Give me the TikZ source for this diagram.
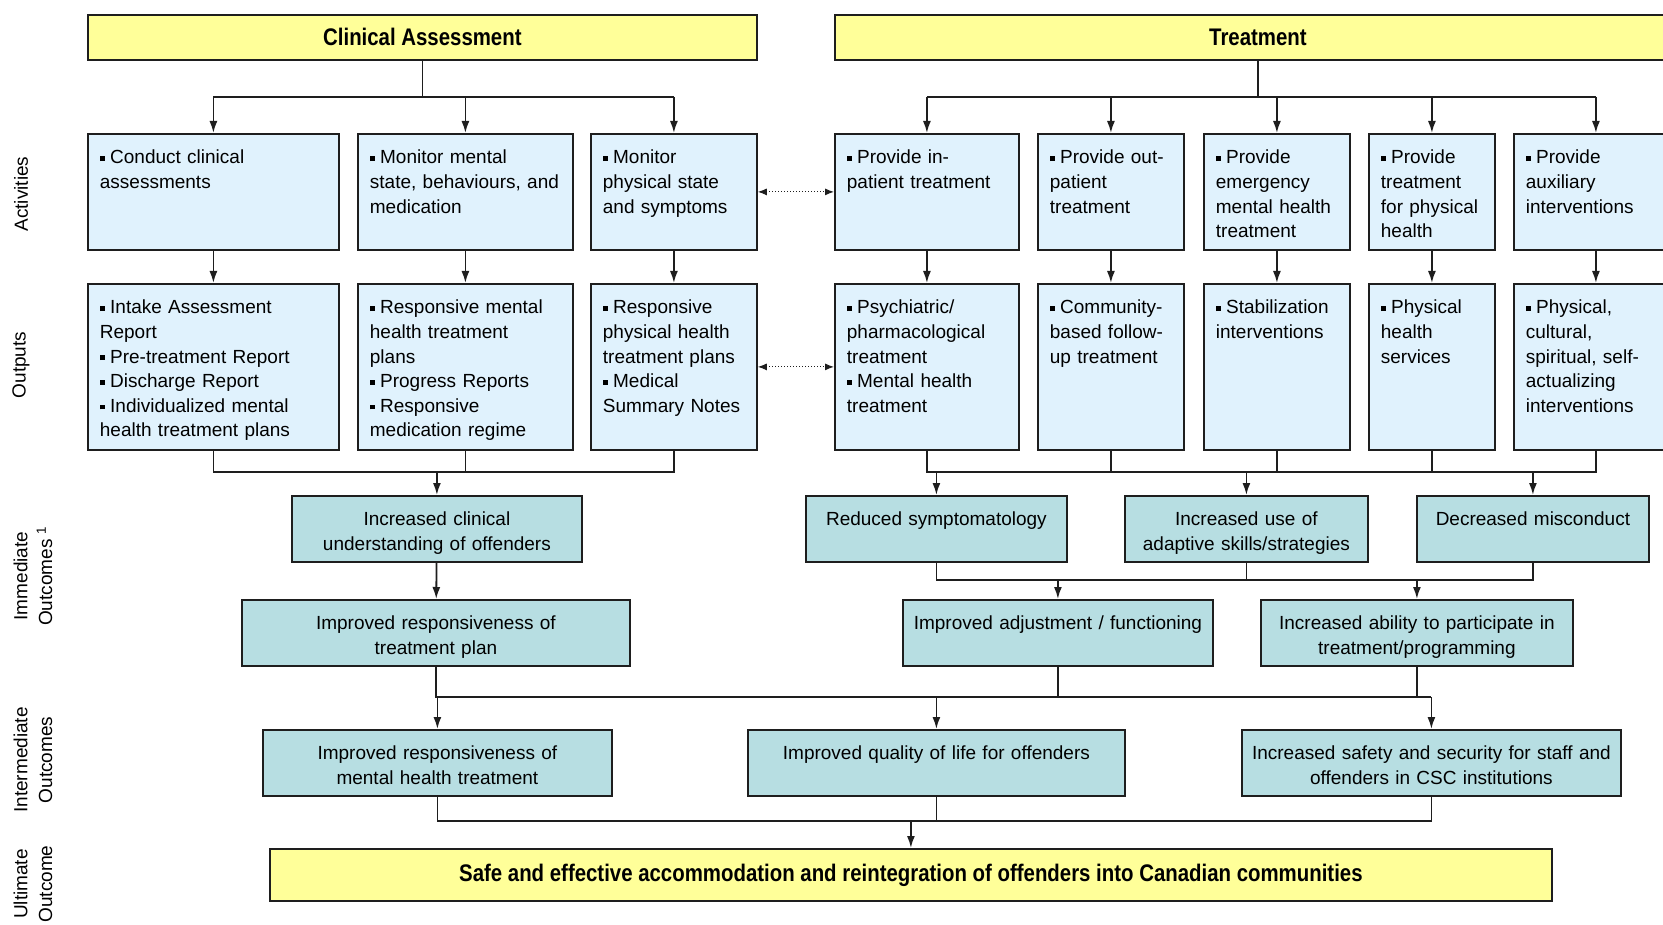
\documentclass[tikz,border=0pt]{standalone}
\usepackage{fontspec}
\setmainfont{Liberation Sans}
\newfontfamily\headfont[FakeStretch=0.85]{Liberation Sans}
\usetikzlibrary{arrows.meta,positioning}

\definecolor{headyellow}{RGB}{255,255,153}
\definecolor{paleblue}{RGB}{224,242,253}
\definecolor{paleteal}{RGB}{183,222,226}
\definecolor{edgegray}{RGB}{30,30,30}

\newcommand{\bodysize}{\fontsize{19pt}{24.6pt}\selectfont}
\newcommand{\headsize}{\fontsize{24pt}{28pt}\selectfont\bfseries}
\newcommand{\itm}{\rule[0.15em]{0.26em}{0.26em}\hspace{0.28em}}

\begin{document}
\begin{tikzpicture}[x=1pt, y=-1pt, line width=1.8pt, draw=edgegray,
  >={Latex[length=12pt,width=8pt]},
  headbox/.style={draw=edgegray, fill=headyellow, anchor=north west, inner sep=0pt,
    minimum width=#1, minimum height=45pt, font=\headfont\headsize},
  actbox/.style={draw=edgegray, fill=paleblue, anchor=north west, align=left, text width=#1,
    inner xsep=12pt, inner ysep=13pt, text height=17pt, text depth=73pt, font=\bodysize},
  outbox/.style={actbox=#1, text depth=123pt},
  resbox/.style={draw=edgegray, fill=paleteal, anchor=north west, align=center, text width=#1,
    inner xsep=4pt, inner ysep=13pt, text height=17pt, text depth=23pt, font=\bodysize},
  rowlabel/.style={rotate=90, align=center, font=\bodysize}]
\useasboundingbox (0,0) rectangle (1663,925);

% Row labels
\node[rowlabel] (lblact) at (21,194) {Activities};
\node[rowlabel] (lblout) at (21,365) {Outputs};
\node[rowlabel] (lblimm) at (33,576) {Immediate\\Outcomes \textsuperscript{1}};
\node[rowlabel] (lblint) at (33,760) {Intermediate\\Outcomes};
\node[rowlabel] (lblult) at (33,884) {Ultimate\\Outcome};

% Headings
\node[headbox=669pt] (assess) at (87,14) {Clinical Assessment};
\node[headbox=846pt] (treat) at (834,14) {Treatment};

% Activities
\node[actbox=227pt] (conduct) at (87,133) {\itm Conduct clinical\\assessments};
\node[actbox=191pt] (monmind) at (357,133) {\itm Monitor mental\\state, behaviours, and\\medication};
\node[actbox=142pt] (monbody) at (590,133) {\itm Monitor\\physical state\\and symptoms};
\node[actbox=160pt] (inpat) at (834,133) {\itm Provide in-\\patient treatment};
\node[actbox=122pt] (outpat) at (1037,133) {\itm Provide out-\\patient\\treatment};
\node[actbox=122pt] (emerg) at (1203,133) {\itm Provide\\emergency\\mental health\\treatment};
\node[actbox=102pt] (physcare) at (1368,133) {\itm Provide\\treatment\\for physical\\health};
\node[actbox=140pt] (auxil) at (1513,133) {\itm Provide\\auxiliary\\interventions};

% Outputs
\node[outbox=227pt] (conduct-out) at (87,283) {\itm Intake Assessment\\Report\\\itm Pre-treatment Report\\\itm Discharge Report\\\itm Individualized mental\\health treatment plans};
\node[outbox=191pt] (monmind-out) at (357,283) {\itm Responsive mental\\health treatment\\plans\\\itm Progress Reports\\\itm Responsive\\medication regime};
\node[outbox=142pt] (monbody-out) at (590,283) {\itm Responsive\\physical health\\treatment plans\\\itm Medical\\Summary Notes};
\node[outbox=160pt] (inpat-out) at (834,283) {\itm Psychiatric/\\pharmacological\\treatment\\\itm Mental health\\treatment};
\node[outbox=122pt] (outpat-out) at (1037,283) {\itm Community-\\based follow-\\up treatment};
\node[outbox=122pt] (emerg-out) at (1203,283) {\itm Stabilization\\interventions};
\node[outbox=102pt] (physcare-out) at (1368,283) {\itm Physical\\health\\services};
\node[outbox=140pt] (auxil-out) at (1513,283) {\itm Physical,\\cultural,\\spiritual, self-\\actualizing\\interventions};

% Immediate outcomes
\node[resbox=282pt] (understand) at (291,495) {Increased clinical\\understanding of offenders};
\node[resbox=380pt] (respplan) at (241,599) {Improved responsiveness of\\treatment plan};
\node[resbox=253pt] (symptoms) at (805,495) {Reduced symptomatology};
\node[resbox=235pt] (skills) at (1124,495) {Increased use of\\adaptive skills/strategies};
\node[resbox=224pt] (misconduct) at (1416,495) {Decreased misconduct};
\node[resbox=302pt] (adjust) at (902,599) {Improved adjustment / functioning};
\node[resbox=304pt] (participate) at (1260,599) {Increased ability to participate in\\treatment/programming};

% Intermediate outcomes
\node[resbox=341pt] (respmh) at (262,729) {Improved responsiveness of\\mental health treatment};
\node[resbox=369pt] (quality) at (747,729) {Improved quality of life for offenders};
\node[resbox=371pt] (safety) at (1241,729) {Increased safety and security for staff and\\offenders in CSC institutions};

% Ultimate outcome
\node[headbox=1282pt, minimum height=52pt] (ultimate) at (269,848) {Safe and effective accommodation and reintegration of offenders into Canadian communities};

% Headings to activities
\coordinate (bustop) at (0,97);
\draw (assess) -- (assess |- bustop);
\draw (conduct |- bustop) -- (monbody |- bustop);
\draw (treat) -- (treat |- bustop);
\draw (inpat |- bustop) -- (auxil |- bustop);
\foreach \n in {conduct,monmind,monbody,inpat,outpat,emerg,physcare,auxil}
  \draw[->] (\n |- bustop) -- (\n);

% Activities to outputs
\foreach \n in {conduct,monmind,monbody,inpat,outpat,emerg,physcare,auxil}
  \draw[->] (\n) -- (\n-out);

% Links between the two sides
\draw[<->, dotted, line width=1pt, >={Latex[length=9pt,width=7pt]}] (monbody) -- (inpat);
\draw[<->, dotted, line width=1pt, >={Latex[length=9pt,width=7pt]}] (monbody-out) -- (inpat-out);

% Outputs to immediate outcomes
\coordinate (busout) at (0,472);
\draw (conduct-out) -- (conduct-out |- busout) -- (monbody-out |- busout) -- (monbody-out);
\draw (monmind-out) -- (monmind-out |- busout);
\draw[->] (understand |- busout) -- (understand);
\draw (inpat-out) -- (inpat-out |- busout) -- (auxil-out |- busout) -- (auxil-out);
\foreach \n in {outpat,emerg,physcare}
  \draw (\n-out) -- (\n-out |- busout);
\draw[line width=2.8pt] (outpat-out |- busout) -- (physcare-out |- busout);
\foreach \n in {symptoms,skills,misconduct}
  \draw[->] (\n |- busout) -- (\n);

% Immediate outcomes, second step
\draw[->] (understand) -- (respplan);
\coordinate (busimm) at (0,580);
\draw (symptoms) -- (symptoms |- busimm) -- (misconduct |- busimm) -- (misconduct);
\draw (skills) -- (skills |- busimm);
\draw[->] (adjust |- busimm) -- (adjust);
\draw[->] (participate |- busimm) -- (participate);

% Immediate to intermediate outcomes
\coordinate (busmid) at (0,697);
\draw (respplan) -- (respplan |- busmid) -- (safety |- busmid);
\draw (adjust) -- (adjust |- busmid);
\draw (participate) -- (participate |- busmid);
\foreach \n in {respmh,quality,safety}
  \draw[->] (\n |- busmid) -- (\n);

% Intermediate to ultimate outcome
\coordinate (busult) at (0,821);
\draw (respmh) -- (respmh |- busult) -- (safety |- busult) -- (safety);
\draw (quality) -- (quality |- busult);
\draw[->] (ultimate |- busult) -- (ultimate);
\end{tikzpicture}
\end{document}
